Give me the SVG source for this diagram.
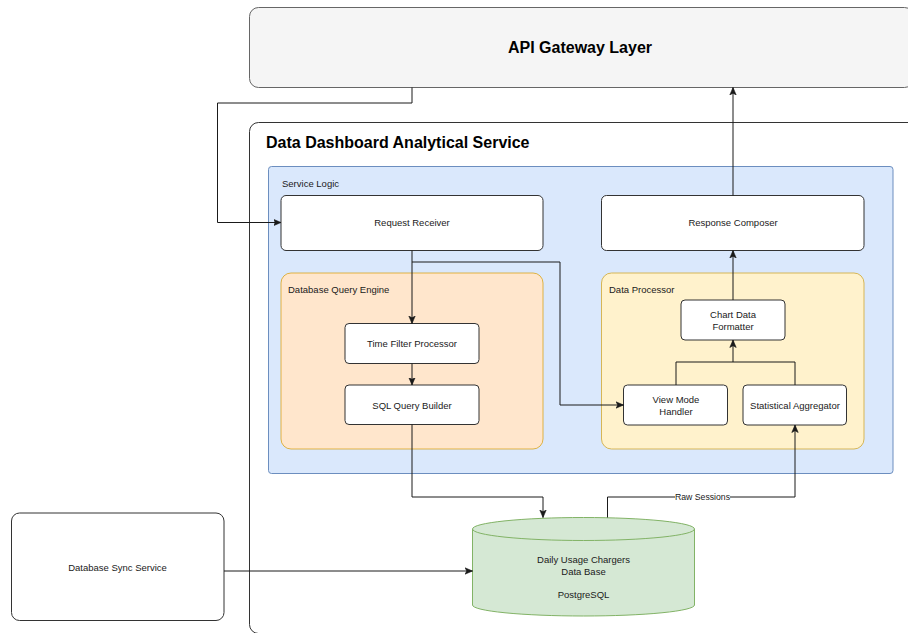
<svg xmlns="http://www.w3.org/2000/svg" width="908" height="633" viewBox="0 0 908 633">
  <style>
    .lbl { font-family: "Liberation Sans", Arial, Helvetica, sans-serif; font-size: 9.5px; fill: #1a1a1a; }
    .mid { text-anchor: middle; dominant-baseline: central; }
    .node { fill: #ffffff; stroke: #333333; stroke-width: 1; }
    .edge { fill: none; stroke: #1a1a1a; stroke-width: 1; }
  </style>
  <defs>
    <marker id="arrow" markerUnits="userSpaceOnUse" markerWidth="8" markerHeight="8" viewBox="0 0 8 8" refX="7.5" refY="4" orient="auto">
      <path d="M0,0.8 L7.5,4 L0,7.2 L1.8,4 Z" fill="#1a1a1a" stroke="#1a1a1a" stroke-width="0.6"/>
    </marker>
  </defs>

  <rect width="908" height="633" fill="#ffffff"/>

  <!-- top gateway -->
  <g id="api-gateway">
    <rect x="249.5" y="7.5" width="664" height="80" rx="9" fill="#f5f5f5" stroke="#666666"/>
    <text class="lbl mid" x="580" y="47" style="font-size:16px;font-weight:bold;fill:#000">API Gateway Layer</text>
  </g>

  <!-- analytical service container -->
  <g id="analytical-service">
    <rect x="249.5" y="122.5" width="680" height="511" rx="9" fill="#ffffff" stroke="#333333"/>
    <text class="lbl" x="266" y="148" style="font-size:16px;font-weight:bold;fill:#000">Data Dashboard Analytical Service</text>
  </g>

  <g id="service-logic">
    <rect x="268.5" y="166.5" width="624.5" height="307" rx="3" fill="#dae8fc" stroke="#6c8ebf"/>
    <text class="lbl" x="282" y="186.5">Service Logic</text>
  </g>

  <g id="query-engine">
    <rect x="281" y="273" width="262" height="176" rx="10" fill="#ffe6cc" stroke="#d79b00" stroke-opacity="0.7"/>
    <text class="lbl" x="288" y="292.5">Database Query Engine</text>
  </g>

  <g id="data-processor">
    <rect x="601.5" y="273" width="262.5" height="176" rx="10" fill="#fff2cc" stroke="#d6b656"/>
    <text class="lbl" x="609" y="292.5">Data Processor</text>
  </g>

  <g id="request-receiver">
    <rect class="node" x="281" y="195.5" width="262" height="55" rx="5"/>
    <text class="lbl mid" x="412" y="222.5">Request Receiver</text>
  </g>

  <g id="response-composer">
    <rect class="node" x="601.5" y="195.5" width="262.5" height="55" rx="5"/>
    <text class="lbl mid" x="733" y="222.5">Response Composer</text>
  </g>

  <g id="time-filter">
    <rect class="node" x="345" y="323.5" width="134" height="40" rx="4"/>
    <text class="lbl mid" x="412" y="343.5">Time Filter Processor</text>
  </g>

  <g id="sql-builder">
    <rect class="node" x="345" y="385" width="134" height="39.5" rx="4"/>
    <text class="lbl mid" x="412" y="405">SQL Query Builder</text>
  </g>

  <g id="chart-formatter">
    <rect class="node" x="681" y="300" width="104" height="40" rx="4"/>
    <text class="lbl mid" x="733" y="314">Chart Data</text>
    <text class="lbl mid" x="733" y="326">Formatter</text>
  </g>

  <g id="view-mode">
    <rect class="node" x="623.5" y="385" width="104" height="40" rx="4"/>
    <text class="lbl mid" x="676" y="399">View Mode</text>
    <text class="lbl mid" x="676" y="411">Handler</text>
  </g>

  <g id="stat-aggregator">
    <rect class="node" x="743" y="385" width="103.5" height="40" rx="4"/>
    <text class="lbl mid" x="795" y="405">Statistical Aggregator</text>
  </g>

  <g id="usage-db">
    <path d="M472.5,529 A111,11.5 0 0 1 694.5,529 L694.5,605 A111,11 0 0 1 472.5,605 Z" fill="#d5e8d4" stroke="#82b366"/>
    <path d="M472.5,529 A111,11.5 0 0 0 694.5,529" fill="none" stroke="#82b366"/>
    <text class="lbl mid" x="583.5" y="559.5">Daily Usage Chargers</text>
    <text class="lbl mid" x="583.5" y="571">Data Base</text>
    <text class="lbl mid" x="583.5" y="594">PostgreSQL</text>
  </g>

  <g id="sync-service">
    <rect class="node" x="11.5" y="513" width="212.5" height="107.5" rx="8"/>
    <text class="lbl mid" x="117.5" y="567">Database Sync Service</text>
  </g>

  <g id="connectors">
    <path class="edge" d="M412,87.5 V103 H217.5 V222.5 H281" marker-end="url(#arrow)"/>
    <path class="edge" d="M412,250.5 V323.5" marker-end="url(#arrow)"/>
    <path class="edge" d="M412,262 H560 V405 H623.5" marker-end="url(#arrow)"/>
    <path class="edge" d="M412,363.5 V385" marker-end="url(#arrow)"/>
    <path class="edge" d="M412,424.5 V497 H543 V517.5" marker-end="url(#arrow)"/>
    <path class="edge" d="M607.5,517.5 V497 H795 V425" marker-end="url(#arrow)"/>
    <rect x="675" y="492" width="55" height="10" fill="#ffffff"/>
    <text class="lbl mid" x="702.5" y="497" style="font-size:8.7px">Raw Sessions</text>
    <path class="edge" d="M676,385 V362 H795 V385"/>
    <path class="edge" d="M733,362 V340" marker-end="url(#arrow)"/>
    <path class="edge" d="M733,300 V250.5" marker-end="url(#arrow)"/>
    <path class="edge" d="M733,195.5 V87.5" marker-end="url(#arrow)"/>
    <path class="edge" d="M224,571 H472.5" marker-end="url(#arrow)"/>
  </g>
</svg>
